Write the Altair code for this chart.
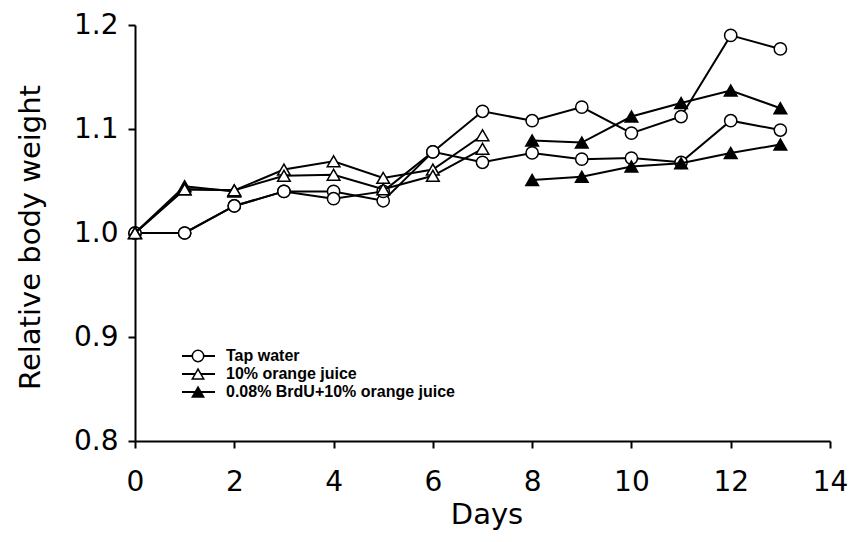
import altair as alt
import pandas as pd

days = list(range(14))
tap_a = [1.000, 1.000, 1.026, 1.040, 1.040, 1.031, 1.078, 1.117, 1.108, 1.121, 1.096, 1.112, 1.190, 1.177]
tap_b = [1.000, 1.000, 1.026, 1.040, 1.033, 1.040, 1.078, 1.068, 1.077, 1.071, 1.072, 1.068, 1.108, 1.099]

oj_days = list(range(8))
oj_a = [1.000, 1.042, 1.041, 1.061, 1.069, 1.053, 1.061, 1.094]
oj_b = [1.000, 1.042, 1.041, 1.055, 1.056, 1.042, 1.055, 1.081]

brdu_early_days = [0, 1, 2]
brdu_early = [1.000, 1.045, 1.040]
brdu_days = [8, 9, 10, 11, 12, 13]
brdu_a = [1.089, 1.087, 1.112, 1.125, 1.137, 1.120]
brdu_b = [1.051, 1.054, 1.064, 1.067, 1.077, 1.085]

groups = ["Tap water", "10% orange juice", "0.08% BrdU+10% orange juice"]
legend_rows = [0.8817, 0.8644, 0.8471]

x_ticks = [0, 2, 4, 6, 8, 10, 12, 14]
y_ticks = [0.8, 0.9, 1.0, 1.1, 1.2]

rows = []
def add(group, line, xs, ys):
    for d, v in zip(xs, ys):
        rows.append({"group": group, "line": line, "day": d, "value": v})

add(groups[0], "tap_a", days, tap_a)
add(groups[0], "tap_b", days, tap_b)
add(groups[1], "oj_a", oj_days, oj_a)
add(groups[1], "oj_b", oj_days, oj_b)
add(groups[2], "brdu_early", brdu_early_days, brdu_early)
add(groups[2], "brdu_a", brdu_days, brdu_a)
add(groups[2], "brdu_b", brdu_days, brdu_b)
df = pd.DataFrame(rows)

leg = pd.DataFrame({"label": groups, "value": legend_rows})

FONT = "DejaVu Sans"
W, H = 695, 416

X = alt.X("day:Q", scale=alt.Scale(domain=[0, 14], nice=False),
          axis=alt.Axis(values=x_ticks, title="Days", format="d", labelFlush=False,
                        titleX=W / 2 + 4, titleY=73, titleBaseline="middle",
                        labelPadding=20))
Y = alt.Y("value:Q", scale=alt.Scale(domain=[0.8, 1.2], nice=False, zero=False),
          axis=alt.Axis(values=y_ticks, title="Relative body weight", format=".1f",
                        titleX=-105, titleY=H / 2 + 4, titleAngle=270, titleAlign="center",
                        titleBaseline="middle", labelPadding=10))

base = alt.Chart(df)

def series(group, shape, fill, size):
    sub = base.transform_filter(alt.datum.group == group)
    line = sub.mark_line(color="black", strokeWidth=2).encode(x=X, y=Y, detail="line:N")
    pts = sub.mark_point(shape=shape, size=size, filled=True, fill=fill, stroke="black",
                         strokeWidth=1.5, opacity=1).encode(x=X, y=Y)
    return [line, pts]

layers = []
layers += series(groups[0], "circle", "white", 150)
layers += series(groups[2], "triangle-up", "black", 160)
layers += series(groups[1], "triangle-up", "white", 160)

lbase = alt.Chart(leg)
layers.append(lbase.mark_rule(color="black", strokeWidth=2).encode(
    x=alt.value(47), x2=alt.value(80), y=Y))
shapes = ["circle", "triangle-up", "triangle-up"]
fills = ["white", "white", "black"]
for i, g in enumerate(groups):
    layers.append(lbase.transform_filter(alt.datum.label == g).mark_point(
        shape=shapes[i], size=130, filled=True, fill=fills[i], stroke="black",
        strokeWidth=1.5, opacity=1).encode(x=alt.value(63), y=Y))
layers.append(lbase.mark_text(align="left", baseline="middle", font="Liberation Sans",
                              fontSize=16, fontWeight="bold", color="black").encode(
    x=alt.value(91), y=Y, text="label:N"))

chart = alt.layer(*layers).properties(
    width=W, height=H,
    autosize=alt.AutoSizeParams(type="none"),
    padding={"left": 127, "top": 17, "right": 18, "bottom": 93},
).configure_view(stroke=None).configure_axis(
    grid=False, domainColor="black", domainWidth=2, tickColor="black", tickWidth=2,
    tickSize=7, labelFont=FONT, labelFontSize=28, labelColor="black",
    titleFont=FONT, titleFontSize=29, titleFontWeight="normal", titleColor="black",
)

chart.save("out.html", embed_options={"renderer": "svg", "actions": False})
